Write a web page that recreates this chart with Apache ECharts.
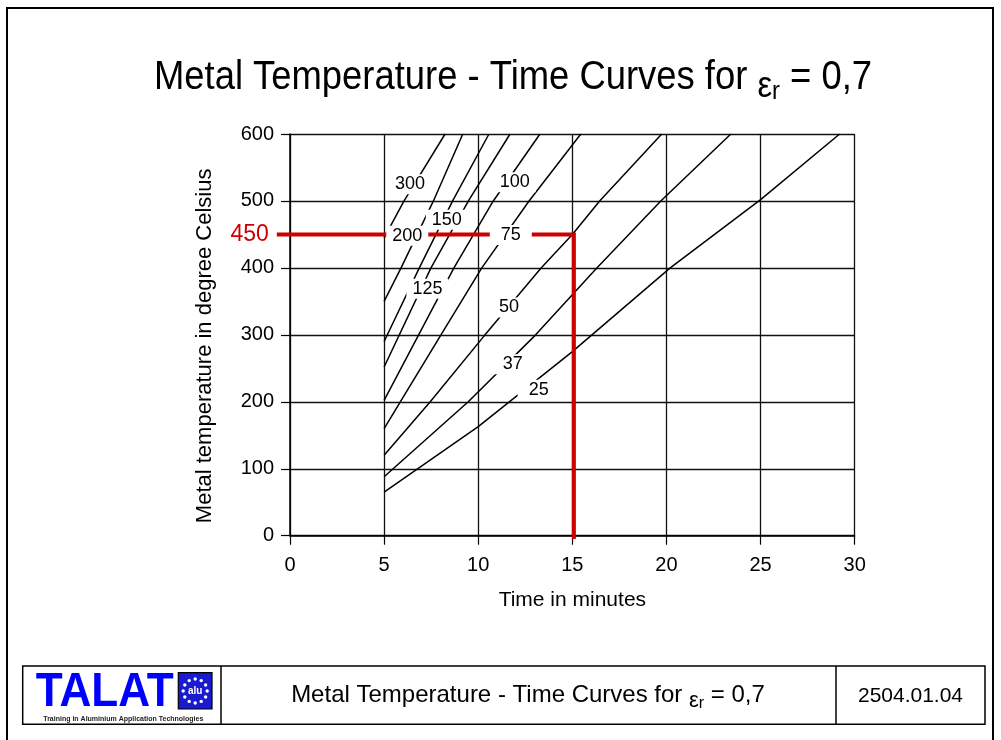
<!DOCTYPE html>
<html><head><meta charset="utf-8">
<script src="https://cdn.jsdelivr.net/npm/echarts@6/dist/echarts.min.js"></script>
<style>html,body{margin:0;padding:0;background:#fff}#c{width:1001px;height:740px}</style>
</head><body><div id="c"></div>
<script>
// ---- data ----
const xTicks = [0, 5, 10, 15, 20, 25, 30];            // minutes
const yTicks = [0, 100, 200, 300, 400, 500, 600];      // degree Celsius
const curveNames = ['300', '200', '150', '125', '100', '75', '50', '37', '25'];
const curve300 = [[5, 445], [6.06, 500], [8.24, 600]];
const curve200 = [[5, 350], [5.9, 400], [7.62, 500], [9.18, 600]];
const curve150 = [[5, 290], [6.87, 400], [8.64, 500], [10.57, 600]];
const curve125 = [[5, 252], [7.49, 400], [9.48, 500], [11.69, 600]];
const curve100 = [[5, 202], [8.71, 400], [10.8, 500], [13.28, 600]];
const curve75  = [[5, 160], [5.86, 200], [8.02, 300], [10.19, 400], [12.7, 500], [15.45, 600]];
const curve50  = [[5, 120], [7.45, 200], [10.36, 300], [13.34, 400], [15, 450], [16.45, 500], [19.75, 600]];
const curve37  = [[5, 88], [9.47, 200], [13.05, 300], [16.3, 400], [19.7, 500], [23.42, 600]];
const curve25  = [[5, 65], [10, 163], [12.1, 210], [15, 275], [20.2, 400], [25, 502], [29.2, 600]];
const labelTimes = [6.38, 6.23, 8.33, 7.30, 11.94, 11.73, 11.64, 11.83, 13.21];
const labelTemps = [525, 448, 472, 369, 528, 449, 341, 256, 218];
const markTime = 15;     // example reading: 15 minutes
const markTemp = 450;    // to 450 degree Celsius
const markLabel = '450';
const footerCode = '2504.01.04';
// --------------------------------------

const FONT = '"Liberation Sans", Arial, Helvetica, sans-serif';
const curves = [curve300, curve200, curve150, curve125, curve100, curve75, curve50, curve37, curve25];

const series = curves.map((d, i) => ({
  type: 'line', name: curveNames[i], data: d, symbol: 'none', silent: true,
  lineStyle: { color: '#000', width: 1.5 }, z: 3
}));

series.push({
  type: 'lines', name: 'example', coordinateSystem: 'cartesian2d', polyline: true, silent: true, clip: false,
  data: [{ coords: [[-0.7, markTemp], [markTime + 0.08, markTemp], [markTime + 0.08, -5]] }],
  lineStyle: { color: '#cc0000', width: 4, opacity: 1 }, z: 4
});

series.push({
  type: 'scatter', name: 'labels', symbolSize: 0, silent: true, z: 10,
  itemStyle: { opacity: 1 },
  data: curveNames.map((n, i) => ({
    value: [labelTimes[i], labelTemps[i]], name: n,
    label: { padding: [1, (42 - 10 * n.length) / 2] }
  })),
  label: {
    show: true, position: 'inside', formatter: p => p.name, opacity: 1,
    color: '#000', fontSize: 18, fontFamily: FONT, backgroundColor: '#fff'
  }
});

series.push({
  type: 'scatter', name: 'markLabel', symbolSize: 0, silent: true, clip: false, z: 10,
  itemStyle: { opacity: 1 },
  data: [{ value: [-0.7, markTemp], name: markLabel }],
  label: { show: true, position: 'left', distance: 8, formatter: p => p.name, opacity: 1,
           color: '#cc0000', fontSize: 23, fontFamily: FONT }
});

// logo stars
const stars = [];
for (let k = 0; k < 12; k++) {
  const a = k / 12 * Math.PI * 2;
  stars.push({ type: 'circle', shape: { cx: 195.2 + 12 * Math.cos(a), cy: 691 + 12 * Math.sin(a), r: 1.7 },
               style: { fill: '#fff' }, silent: true, z: 20 });
}

const option = {
  animation: false,
  backgroundColor: '#fff',
  grid: { left: 290, top: 134, width: 564.7, height: 401.7, containLabel: false },
  xAxis: {
    type: 'value', min: xTicks[0], max: xTicks[xTicks.length - 1], interval: xTicks[1] - xTicks[0],
    name: 'Time in minutes', nameLocation: 'middle', nameGap: 54,
    nameTextStyle: { fontSize: 21, fontFamily: FONT, color: '#000' },
    axisLine: { show: true, lineStyle: { color: '#000', width: 1.5 } },
    axisTick: { show: true, length: 9, lineStyle: { color: '#000', width: 1.2 } },
    axisLabel: { fontSize: 20, fontFamily: FONT, color: '#000', margin: 20 },
    splitLine: { show: true, lineStyle: { color: '#111', width: 1.3 } }
  },
  yAxis: {
    type: 'value', min: yTicks[0], max: yTicks[yTicks.length - 1], interval: yTicks[1] - yTicks[0],
    name: 'Metal temperature in degree Celsius', nameLocation: 'middle', nameGap: 74,
    nameTextStyle: { fontSize: 22, fontFamily: FONT, color: '#000', padding: [0, 22, 0, 0] },
    axisLine: { show: true, lineStyle: { color: '#000', width: 1.5 } },
    axisTick: { show: true, length: 9, lineStyle: { color: '#000', width: 1.2 } },
    axisLabel: { fontSize: 20, fontFamily: FONT, color: '#000', margin: 16 },
    splitLine: { show: true, lineStyle: { color: '#111', width: 1.3 } }
  },
  graphic: [
    { type: 'rect', shape: { x: 7, y: 8, width: 986, height: 760 }, style: { fill: 'none', stroke: '#000', lineWidth: 2 }, silent: true, z: 1 },
    { type: 'text', x: 513, y: 78, scaleX: 0.91, silent: true, z: 20,
      style: { text: '{a|Metal Temperature - Time Curves for }{e|ε}{r|r}{a| = 0,7}', x: 0, y: 0,
        align: 'center', verticalAlign: 'middle',
        rich: {
          a: { fontSize: 40, fontFamily: FONT, fill: '#000' },
          e: { fontSize: 36, fontFamily: FONT, fill: '#000', padding: [18, 0, 0, 0] },
          r: { fontSize: 26, fontFamily: FONT, fill: '#000', padding: [28, 0, 0, 0] }
        } } },
    { type: 'rect', shape: { x: 22.7, y: 666, width: 962.3, height: 58.3 }, style: { fill: 'none', stroke: '#000', lineWidth: 1.5 }, silent: true, z: 20 },
    { type: 'line', shape: { x1: 221, y1: 666, x2: 221, y2: 724.3 }, style: { stroke: '#000', lineWidth: 1.5 }, silent: true, z: 20 },
    { type: 'line', shape: { x1: 836, y1: 666, x2: 836, y2: 724.3 }, style: { stroke: '#000', lineWidth: 1.5 }, silent: true, z: 20 },
    { type: 'text', x: 528, y: 695, silent: true, z: 20,
      style: { text: '{a|Metal Temperature - Time Curves for }{e|ε}{r|r}{a| = 0,7}', x: 0, y: 0,
        align: 'center', verticalAlign: 'middle',
        rich: {
          a: { fontSize: 24, fontFamily: FONT, fill: '#000' },
          e: { fontSize: 22, fontFamily: FONT, fill: '#000', padding: [11, 0, 0, 0] },
          r: { fontSize: 16, fontFamily: FONT, fill: '#000', padding: [18, 0, 0, 0] }
        } } },
    { type: 'text', x: 910.5, y: 696, silent: true, z: 20,
      style: { text: footerCode, x: 0, y: 0, align: 'center', verticalAlign: 'middle', fontSize: 21, fontFamily: FONT, fill: '#000' } },
    { type: 'text', x: 104.7, y: 692, scaleX: 0.9, silent: true, z: 20,
      style: { text: 'TALAT', x: 0, y: 0, align: 'center', verticalAlign: 'middle', fontSize: 49, fontWeight: 'bold', fontFamily: FONT, fill: '#0000ff' } },
    { type: 'rect', shape: { x: 178.3, y: 672.7, width: 33.7, height: 36.3 }, style: { fill: '#1a1ad0', stroke: '#000', lineWidth: 1.2 }, silent: true, z: 20 },
    { type: 'text', x: 195.2, y: 691.5, silent: true, z: 21,
      style: { text: 'alu', x: 0, y: 0, align: 'center', verticalAlign: 'middle', fontSize: 10, fontWeight: 'bold', fontFamily: FONT, fill: '#fff' } },
    ...stars,
    { type: 'text', x: 123.3, y: 719.3, silent: true, z: 20,
      style: { text: 'Training in Aluminium Application Technologies', x: 0, y: 0, align: 'center', verticalAlign: 'middle', fontSize: 7, fontWeight: 'bold', fontFamily: FONT, fill: '#222' } }
  ],
  series: series
};

const chart = echarts.init(document.getElementById('c'), null, { renderer: 'canvas' });
chart.setOption(option);
</script>
</body></html>
